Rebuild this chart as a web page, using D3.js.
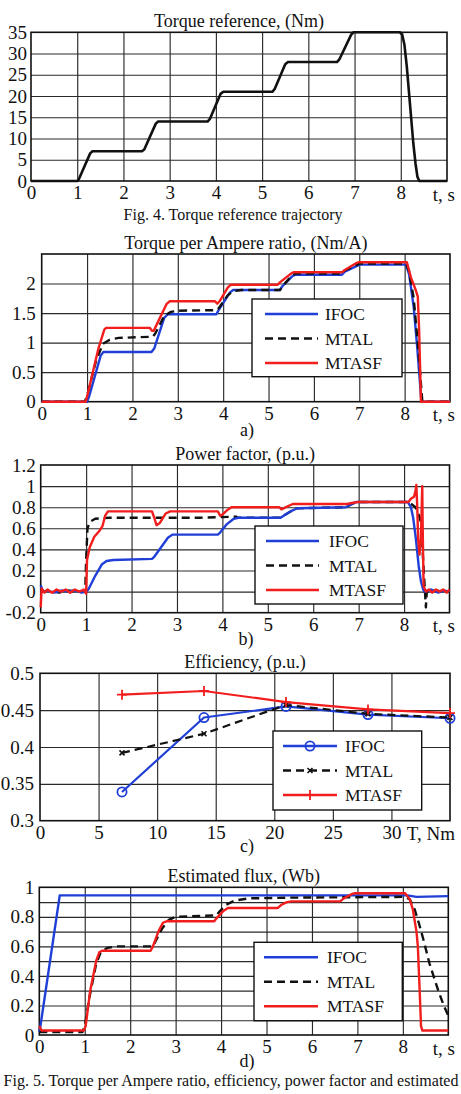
<!DOCTYPE html>
<html><head><meta charset="utf-8">
<script src="https://cdn.jsdelivr.net/npm/d3@7"></script>
<style>body{margin:0;background:#fff}</style>
</head><body><svg id="c" width="461" height="1094"></svg>
<script>
// ---------------- DATA ----------------
const timeTicks = [0,1,2,3,4,5,6,7,8];
const timeTickLabels = ["0","1","2","3","4","5","6","7","8"];
const timeGrid = [1,2,3,4,5,6,7,8];

// Fig.4 torque reference (Nm)
const torqueTicks = [0,5,10,15,20,25,30,35];
const torqueTickLabels = ["0","5","10","15","20","25","30","35"];
const torqueRef = [[0,0],[1.0,0],[1.03,0.3],[1.28,6.5],[1.33,7],[1.38,7],[2.4,7],[2.45,7.4],[2.7,13.5],[2.75,14],[2.8,14],[3.82,14],[3.87,14.6],[4.1,20.5],[4.16,21],[4.2,21],[5.22,21],[5.27,21.6],[5.5,27.5],[5.56,28],[5.6,28],[6.62,28],[6.67,28.6],[6.93,34.5],[6.98,35],[7.98,35],[8.03,34.5],[8.08,32],[8.13,27],[8.2,18],[8.27,9],[8.32,4],[8.36,1],[8.4,0],[9,0]];

// a) Torque per Ampere ratio (Nm/A)
const tpaTicks = [0,0.5,1,1.5,2];
const tpaTickLabels = ["0","0.5","1","1.5","2"];
const tpaGrid = [0.5,1,1.5,2];
const tpaIFOC = [[0,0],[1.0,0],[1.05,0.1],[1.3,0.78],[1.36,0.84],[2.42,0.84],[2.48,0.9],[2.7,1.42],[2.78,1.48],[3.85,1.48],[3.9,1.55],[4.15,1.85],[4.22,1.89],[5.25,1.89],[5.3,1.95],[5.52,2.12],[5.58,2.15],[6.62,2.15],[6.68,2.2],[6.95,2.3],[7.0,2.32],[8.03,2.32],[8.1,2.15],[8.2,1.6],[8.28,0.9],[8.34,0.3],[8.37,0],[9,0]];
const tpaMTAL = [[0,0],[0.95,0],[1.0,0.1],[1.2,0.7],[1.35,0.98],[1.5,1.05],[1.7,1.08],[2.45,1.1],[2.5,1.15],[2.7,1.45],[2.85,1.52],[3.0,1.54],[3.85,1.55],[3.9,1.58],[4.1,1.8],[4.22,1.87],[4.4,1.89],[5.25,1.89],[5.3,1.95],[5.52,2.14],[5.6,2.17],[6.62,2.17],[6.68,2.22],[6.95,2.32],[7.02,2.34],[8.03,2.34],[8.1,2.2],[8.2,1.75],[8.3,0.9],[8.36,0.3],[8.39,0],[9,0]];
const tpaMTASF = [[0,0],[0.97,0],[1.02,0.15],[1.25,0.9],[1.38,1.22],[1.42,1.25],[2.38,1.25],[2.43,1.2],[2.47,1.2],[2.55,1.33],[2.75,1.65],[2.82,1.7],[3.82,1.7],[3.87,1.66],[3.92,1.7],[4.1,1.93],[4.17,1.98],[5.2,1.98],[5.25,2.02],[5.48,2.16],[5.55,2.19],[6.62,2.19],[6.68,2.23],[6.92,2.34],[6.98,2.36],[8.05,2.36],[8.14,2.1],[8.24,1.9],[8.29,1.78],[8.32,1.2],[8.36,0],[9,0]];

// b) Power factor (p.u.)
const pfTicks = [-0.2,0,0.2,0.4,0.6,0.8,1,1.2];
const pfTickLabels = ["-0.2","0","0.2","0.4","0.6","0.8","1","1.2"];
const pfGrid = [0,0.2,0.4,0.6,0.8,1];
const pfIFOC = [[0,0.06],[0.05,0.0],[0.15,0.01],[0.3,-0.01],[0.45,0.01],[0.6,0.0],[0.75,0.01],[0.9,-0.01],[1.0,0.0],[1.05,0.02],[1.2,0.15],[1.35,0.26],[1.45,0.29],[1.6,0.3],[2.45,0.31],[2.5,0.33],[2.65,0.42],[2.8,0.51],[2.9,0.54],[3.9,0.54],[3.95,0.56],[4.1,0.64],[4.25,0.69],[4.35,0.7],[5.28,0.7],[5.35,0.72],[5.5,0.76],[5.65,0.79],[6.72,0.8],[6.8,0.82],[6.95,0.85],[8.08,0.85],[8.15,0.8],[8.2,0.7],[8.26,0.5],[8.32,0.25],[8.37,0.1],[8.42,0.02],[8.45,0.0],[8.6,0.02],[8.75,-0.01],[8.9,0.01],[9,0.0]];
const pfMTAL = [[0,0.0],[0.2,0.01],[0.4,-0.01],[0.6,0.01],[0.8,0.0],[0.98,0.0],[1.0,0.3],[1.03,0.6],[1.08,0.66],[1.2,0.69],[1.5,0.7],[2.5,0.7],[3.5,0.7],[4.3,0.71],[4.35,0.7],[5.28,0.7],[5.35,0.72],[5.5,0.76],[5.65,0.79],[6.72,0.8],[6.8,0.82],[6.95,0.85],[8.1,0.85],[8.25,0.8],[8.33,0.72],[8.37,0.66],[8.42,0.3],[8.46,0.0],[8.48,-0.15],[8.5,0.0],[8.6,0.01],[9,0.0]];
const pfMTASF = [[0,-0.15],[0.02,0.03],[0.08,-0.01],[0.15,0.02],[0.25,-0.01],[0.35,0.02],[0.45,0.0],[0.55,0.02],[0.65,-0.01],[0.75,0.02],[0.85,0.0],[0.95,0.02],[1.0,-0.02],[1.02,0.3],[1.08,0.42],[1.18,0.52],[1.3,0.58],[1.36,0.62],[1.42,0.72],[1.48,0.76],[2.45,0.76],[2.5,0.7],[2.55,0.63],[2.62,0.65],[2.75,0.74],[2.85,0.76],[3.9,0.76],[3.95,0.72],[4.0,0.73],[4.1,0.77],[4.2,0.8],[5.25,0.8],[5.3,0.78],[5.4,0.8],[5.55,0.83],[5.7,0.83],[6.75,0.83],[6.85,0.84],[7.0,0.85],[8.1,0.85],[8.15,0.88],[8.22,0.9],[8.25,0.95],[8.27,1.01],[8.29,0.8],[8.31,0.5],[8.34,0.35],[8.37,0.5],[8.4,1.0],[8.41,0.6],[8.43,0.05],[8.48,0.0],[8.55,0.02],[8.62,-0.01],[8.7,0.02],[8.78,0.0],[8.86,0.02],[8.94,-0.01],[9,0.02]];

// c) Efficiency vs torque
const torqueLoads = [7,14,21,28,35];
const effTicksX = [0,5,10,15,20,25,30];
const effTickLabelsX = ["0","5","10","15","20","25","30"];
const effGridX = [5,10,15,20,25,30];
const effTicks = [0.3,0.35,0.4,0.45,0.5];
const effTickLabels = ["0.3","0.35","0.4","0.45","0.5"];
const effGrid = [0.35,0.4,0.45];
const effIFOC = [0.339,0.44,0.455,0.444,0.439];
const effMTAL = [0.392,0.418,0.457,0.445,0.44];
const effMTASF = [0.471,0.476,0.461,0.451,0.446];

// d) Estimated flux (Wb)
const fluxTicks = [0,0.2,0.4,0.6,0.8,1];
const fluxTickLabels = ["0","0.2","0.4","0.6","0.8","1"];
const fluxGrid = [0.1,0.2,0.3,0.4,0.5,0.6,0.7,0.8,0.9];
const fluxIFOC = [[0,0.02],[0.02,0.05],[0.45,0.945],[8.1,0.945],[8.2,0.94],[8.3,0.935],[9,0.94]];
const fluxMTAL = [[0,0.02],[0.95,0.02],[1.0,0.06],[1.1,0.25],[1.25,0.48],[1.35,0.56],[1.5,0.59],[1.7,0.6],[2.5,0.6],[2.55,0.63],[2.7,0.72],[2.85,0.78],[3.0,0.8],[3.9,0.81],[3.95,0.83],[4.1,0.88],[4.3,0.91],[4.6,0.925],[5.5,0.93],[8.05,0.935],[8.15,0.92],[8.26,0.85],[8.35,0.76],[8.44,0.66],[8.59,0.48],[8.78,0.3],[8.9,0.2],[9.0,0.13]];
const fluxMTASF = [[0,0.06],[0.05,0.03],[0.98,0.03],[1.02,0.06],[1.12,0.3],[1.25,0.5],[1.32,0.56],[1.38,0.57],[2.45,0.57],[2.5,0.6],[2.62,0.7],[2.72,0.76],[2.8,0.77],[3.85,0.77],[3.9,0.79],[4.05,0.84],[4.15,0.86],[5.25,0.86],[5.32,0.88],[5.45,0.9],[5.55,0.905],[6.62,0.905],[6.7,0.925],[6.88,0.955],[6.95,0.96],[8.05,0.96],[8.15,0.92],[8.22,0.85],[8.3,0.7],[8.33,0.6],[8.37,0.3],[8.4,0.06],[8.43,0.03],[9,0.03]];

const seriesNames = ["IFOC","MTAL","MTASF"];

// ---------------- STYLE ----------------
const FONT = "'Liberation Serif','Times New Roman',Times,serif";
const BLUE = "#1f3fd6", RED = "#f21d1d", BLACK = "#111";
const DASH = "8,5";
const svg = d3.select("#c");
svg.append("rect").attr("width",461).attr("height",1094).attr("fill","#fff");

function txt(x,y,s,size,anchor){
  return svg.append("text").attr("x",x).attr("y",y).attr("font-family",FONT)
    .attr("font-size",size).attr("text-anchor",anchor||"middle").attr("fill","#111").text(s);
}

function panel(c){
  const x = d3.scaleLinear().domain(c.xDomain).range([c.L,c.R]);
  const y = d3.scaleLinear().domain(c.yDomain).range([c.B,c.T]);
  const g = svg.append("g");
  // grid
  g.append("g").attr("transform",`translate(0,${c.B})`)
    .call(d3.axisBottom(x).tickValues(c.xGrid).tickSize(-(c.B-c.T)).tickFormat(""))
    .call(s=>{s.select(".domain").remove();s.selectAll("line").attr("stroke","#2a2a2a").attr("stroke-width",1.15);});
  g.append("g").attr("transform",`translate(${c.L},0)`)
    .call(d3.axisLeft(y).tickValues(c.yGrid).tickSize(-(c.R-c.L)).tickFormat(""))
    .call(s=>{s.select(".domain").remove();s.selectAll("line").attr("stroke","#2a2a2a").attr("stroke-width",1.15);});
  // border
  g.append("rect").attr("x",c.L).attr("y",c.T).attr("width",c.R-c.L).attr("height",c.B-c.T)
    .attr("fill","none").attr("stroke","#111").attr("stroke-width",1.6);
  // tick labels
  const xa = g.append("g").attr("transform",`translate(0,${c.B})`)
    .call(d3.axisBottom(x).tickValues(c.xTicks).tickSize(0).tickPadding(5).tickFormat((d,i)=>c.xLabels[i]));
  const ya = g.append("g").attr("transform",`translate(${c.L},0)`)
    .call(d3.axisLeft(y).tickValues(c.yTicks).tickSize(0).tickPadding(c.yPad||5).tickFormat((d,i)=>c.yLabels[i]));
  [xa,ya].forEach(a=>{a.select(".domain").remove();a.attr("font-family",FONT).attr("font-size",19).attr("color","#111");});
  txt(455,c.B+19.5,c.xName,19,"end");
  // title
  txt((c.L+c.R)/2,c.T-5,c.title,18);
  return {x,y,g};
}

function drawLine(p,data,color,dash,w){
  const line = d3.line().x(d=>p.x(d[0])).y(d=>p.y(d[1]));
  p.g.append("path").datum(data).attr("d",line).attr("fill","none")
    .attr("stroke",color).attr("stroke-width",w||2.4).attr("stroke-linejoin","round")
    .attr("stroke-dasharray",dash||null);
}

function marker(g,type,cx,cy,color){
  if(type==="o") g.append("circle").attr("cx",cx).attr("cy",cy).attr("r",4.6).attr("fill","none").attr("stroke",color).attr("stroke-width",1.8);
  if(type==="+") g.append("path").attr("d",`M${cx-5},${cy}H${cx+5}M${cx},${cy-5}V${cy+5}`).attr("stroke",color).attr("stroke-width",1.8);
  if(type==="x") g.append("path").attr("d",`M${cx-2.5},${cy-2.5}L${cx+2.5},${cy+2.5}M${cx-2.5},${cy+2.5}L${cx+2.5},${cy-2.5}`).attr("stroke",color).attr("stroke-width",1.6);
}

function legend(p,bx,by,bw,bh,lx0,lx1,tx,items){
  const g = p.g.append("g");
  g.append("rect").attr("x",bx).attr("y",by).attr("width",bw).attr("height",bh)
    .attr("fill","#fff").attr("stroke","#111").attr("stroke-width",1.4);
  items.forEach((it,i)=>{
    const yy = by+15+i*24.5;
    g.append("line").attr("x1",lx0).attr("x2",lx1).attr("y1",yy).attr("y2",yy)
      .attr("stroke",it.color).attr("stroke-width",2.4).attr("stroke-dasharray",it.dash||null);
    if(it.marker) marker(g,it.marker,(lx0+lx1)/2,yy,it.color);
    g.append("text").attr("x",tx).attr("y",yy+6).attr("font-family",FONT).attr("font-size",17.5)
      .attr("fill","#111").text(seriesNames[i]);
  });
}

// ---------------- Fig. 4 ----------------
const p1 = panel({L:31,R:447,T:32.3,B:181,xDomain:[0,9],yDomain:[0,35],
  xGrid:timeGrid,yGrid:torqueTicks.slice(1,-1),xTicks:timeTicks,xLabels:timeTickLabels,
  yTicks:torqueTicks,yLabels:torqueTickLabels,yPad:4,xName:"t, s",title:"Torque reference, (Nm)"});
drawLine(p1,torqueRef,BLACK,null,2.6);
txt(233,220,"Fig. 4. Torque reference trajectory",16);

// ---------------- a) ----------------
const p2 = panel({L:41.7,R:450,T:254,B:401.7,xDomain:[0,9],yDomain:[0,2.5],
  xGrid:timeGrid,yGrid:tpaGrid,xTicks:timeTicks,xLabels:timeTickLabels,
  yTicks:tpaTicks,yLabels:tpaTickLabels,yPad:6,xName:"t, s",title:"Torque per Ampere ratio, (Nm/A)"});
drawLine(p2,tpaIFOC,BLUE);
drawLine(p2,tpaMTAL,BLACK,DASH);
drawLine(p2,tpaMTASF,RED);
legend(p2,252,299,150,77.7,265,318,325,[{color:BLUE},{color:BLACK,dash:DASH},{color:RED}]);
txt(247,436,"a)",18);

// ---------------- b) ----------------
const p3 = panel({L:40.7,R:449.5,T:465,B:612.7,xDomain:[0,9],yDomain:[-0.2,1.2],
  xGrid:timeGrid,yGrid:pfGrid,xTicks:timeTicks,xLabels:timeTickLabels,
  yTicks:pfTicks,yLabels:pfTickLabels,yPad:5,xName:"t, s",title:"Power factor, (p.u.)"});
drawLine(p3,pfMTAL,BLACK,DASH);
drawLine(p3,pfIFOC,BLUE);
drawLine(p3,pfMTASF,RED);
legend(p3,255,526,148,78,266,319,329,[{color:BLUE},{color:BLACK,dash:DASH},{color:RED}]);
txt(246,645,"b)",18);

// ---------------- c) ----------------
const p4 = panel({L:40,R:450,T:673.3,B:820.7,xDomain:[0,35],yDomain:[0.3,0.5],
  xGrid:effGridX,yGrid:effGrid,xTicks:effTicksX,xLabels:effTickLabelsX,
  yTicks:effTicks,yLabels:effTickLabels,yPad:6,xName:"T, Nm",title:"Efficiency, (p.u.)"});
const effSets = [[effIFOC,BLUE,null,"o"],[effMTAL,BLACK,DASH,"x"],[effMTASF,RED,null,"+"]];
effSets.forEach(([vals,col,dash,mk])=>{
  const pts = torqueLoads.map((t,i)=>[t,vals[i]]);
  drawLine(p4,pts,col,dash,2.2);
  pts.forEach(d=>marker(p4.g,mk,p4.x(d[0]),p4.y(d[1]),col));
});
legend(p4,273,731,148.7,79,283,337,345,[{color:BLUE,marker:"o"},{color:BLACK,dash:DASH,marker:"x"},{color:RED,marker:"+"}]);
txt(247,852,"c)",18);

// ---------------- d) ----------------
const p5 = panel({L:39.3,R:448.3,T:887.3,B:1035,xDomain:[0,9],yDomain:[0,1],
  xGrid:timeGrid,yGrid:fluxGrid,xTicks:timeTicks,xLabels:timeTickLabels,
  yTicks:fluxTicks,yLabels:fluxTickLabels,yPad:5,xName:"t, s",title:"Estimated flux, (Wb)"});
drawLine(p5,fluxIFOC,BLUE);
drawLine(p5,fluxMTAL,BLACK,DASH);
drawLine(p5,fluxMTASF,RED);
legend(p5,254,942.3,148.3,78.4,264,318,327,[{color:BLUE},{color:BLACK,dash:DASH},{color:RED}]);
txt(247,1067,"d)",18);
txt(231,1086,"Fig. 5. Torque per Ampere ratio, efficiency, power factor and estimated",16);
</script></body></html>
